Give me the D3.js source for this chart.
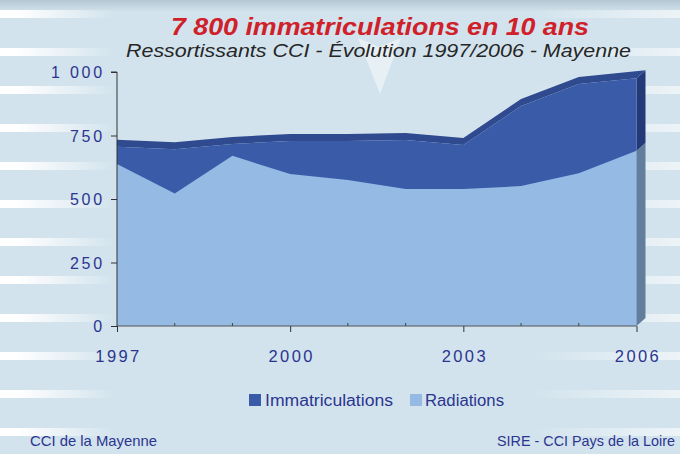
<!DOCTYPE html>
<html><head><meta charset="utf-8">
<script src="https://cdn.jsdelivr.net/npm/d3@7"></script>
<style>
html,body{margin:0;padding:0;background:#d2e3ed;}
svg{display:block;}
text{font-family:"Liberation Sans",Arial,sans-serif;}
</style></head>
<body>
<svg id="chart" width="680" height="454"></svg>
<script>
// ---- data ----
const years = [1997, 1998, 1999, 2000, 2001, 2002, 2003, 2004, 2005, 2006];
const immatriculations = [706, 696, 717, 728, 728, 732, 713, 866, 953, 975];
const radiations = [638, 522, 670, 598, 575, 539, 539, 551, 601, 690];
const yTickValues = [0, 250, 500, 750, 1000];
const xLabelYears = [1997, 2000, 2003, 2006];
const seriesNames = ["Immatriculations", "Radiations"];
const titleText = "7 800 immatriculations en 10 ans";
const subtitleText = "Ressortissants CCI - Évolution 1997/2006 - Mayenne";
const sourceLeft = "CCI de la Mayenne";
const sourceRight = "SIRE - CCI Pays de la Loire";

// ---- setup ----
const W = 680, H = 454;
const svg = d3.select("#chart");
const C = {
  bg: "#d2e3ed", darkFront: "#3a5ba8", darkTop: "#2f4a8e", darkSide: "#243a78",
  lightFront: "#95bbe4", lightSide: "#637e9c", label: "#2b3590", red: "#d0202a"
};
const DX = 9, DY = -8, BAND = -7;

const x = d3.scaleLinear().domain([1997, 2006]).range([117, 636.5]);
const y = d3.scaleLinear().domain([0, 1000]).range([326, 72]);

const defs = svg.append("defs");
const gl = defs.append("linearGradient").attr("id", "stripeL").attr("x1", 0).attr("x2", 1);
gl.append("stop").attr("offset", "0").attr("stop-color", "#fff").attr("stop-opacity", 1);
gl.append("stop").attr("offset", "0.15").attr("stop-color", "#fff").attr("stop-opacity", 1);
gl.append("stop").attr("offset", "1").attr("stop-color", "#fff").attr("stop-opacity", 0);
const gr = defs.append("linearGradient").attr("id", "stripeR").attr("x1", 0).attr("x2", 1);
gr.append("stop").attr("offset", "0").attr("stop-color", "#fff").attr("stop-opacity", 0);
gr.append("stop").attr("offset", "1").attr("stop-color", "#fff").attr("stop-opacity", 0.6);
const gt = defs.append("linearGradient").attr("id", "topG").attr("x1", 0).attr("x2", 0).attr("y1", 0).attr("y2", 1);
gt.append("stop").attr("offset", "0").attr("stop-color", "#b4c7d3");
gt.append("stop").attr("offset", "1").attr("stop-color", C.bg);

// background
svg.append("rect").attr("width", W).attr("height", H).attr("fill", C.bg);
svg.append("rect").attr("width", W).attr("height", 12).attr("fill", "url(#topG)");
const stripeY = d3.range(14, H, 38);
svg.append("g").selectAll("rect").data(stripeY).join("rect")
  .attr("x", 0).attr("y", d => d - 4).attr("width", 115).attr("height", 8).attr("fill", "url(#stripeL)");
svg.append("g").selectAll("rect").data(stripeY).join("rect")
  .attr("x", 530).attr("y", d => d - 4).attr("width", 150).attr("height", 8).attr("fill", "url(#stripeR)");
// faint chevron
svg.append("path").attr("d", "M358,38 L379,47 L401,38 L380,94 Z").attr("fill", "#fff").attr("opacity", 0.45);

// ---- 3D area chart ----
const n = years.length;
const front = years.map((yr, i) => [x(yr), y(immatriculations[i])]);
const back = front.map((p, i) => i === n - 1 ? [p[0] + DX, p[1] + DY] : [p[0], p[1] + BAND]);
const topPoly = front.concat(back.slice().reverse());
const plot = svg.append("g");

const lastX = x(years[n - 1]);
const yImmL = y(immatriculations[n - 1]), yRadL = y(radiations[n - 1]), y0 = y(0);
const poly = d3.line();
plot.append("path").attr("d", poly([[lastX, yRadL], [lastX + DX, yRadL + DY], [lastX + DX, y0 + DY], [lastX, y0]]) + "Z")
  .attr("fill", C.lightSide);
plot.append("path").attr("d", poly([[lastX, yImmL], [lastX + DX, yImmL + DY], [lastX + DX, yRadL + DY], [lastX, yRadL]]) + "Z")
  .attr("fill", C.darkSide);
plot.append("path").attr("d", poly(topPoly) + "Z").attr("fill", C.darkTop);

const areaImm = d3.area().x((d, i) => x(years[i])).y0(y(0)).y1(d => y(d));
plot.append("path").datum(immatriculations).attr("d", areaImm).attr("fill", C.darkFront);
plot.append("path").datum(radiations).attr("d", areaImm).attr("fill", C.lightFront);

// ---- axes ----
const fr = d3.formatLocale({decimal: ",", thousands: " ", grouping: [3], currency: ["", ""]});
const fmt = fr.format(",");
const yAxis = svg.append("g").attr("transform", `translate(${x(1997)},0)`)
  .call(d3.axisLeft(y).tickValues(yTickValues).tickSize(6).tickPadding(6).tickFormat(fmt));
yAxis.select(".domain").attr("d", `M-6,${y(1000)}H0V${y(0)}`).attr("stroke", "#333");
yAxis.selectAll(".tick line").attr("stroke", "#333");
yAxis.selectAll("text").attr("fill", C.label).attr("font-size", 16).attr("letter-spacing", "2.8px")
  .attr("dy", "0.36em").attr("font-family", "Liberation Sans, Arial, sans-serif");

const xAxis = svg.append("g").attr("transform", `translate(0,${y(0)})`)
  .call(d3.axisBottom(x).tickValues(xLabelYears).tickSize(6).tickPadding(18).tickFormat(d3.format("d")));
xAxis.select(".domain").attr("d", `M${x(1997)},0H${x(2006)}`).attr("stroke", "#555");
xAxis.selectAll(".tick line").attr("stroke", "#333");
xAxis.selectAll("text").attr("fill", C.label).attr("font-size", 16.5).attr("letter-spacing", "2.4px")
  .attr("font-family", "Liberation Sans, Arial, sans-serif").attr("dx", "1px");
svg.append("g").selectAll("line").data(years.filter(d => !xLabelYears.includes(d))).join("line")
  .attr("x1", d => x(d)).attr("x2", d => x(d)).attr("y1", y(0) - 3).attr("y2", y(0))
  .attr("stroke", "#444");

// ---- titles ----
svg.append("text").attr("x", 171).attr("y", 35).attr("font-size", 24.5).attr("font-weight", "bold")
  .attr("font-style", "italic").attr("fill", C.red).attr("textLength", 418).attr("lengthAdjust", "spacingAndGlyphs")
  .text(titleText);
svg.append("text").attr("x", 126).attr("y", 57).attr("font-size", 19)
  .attr("font-style", "italic").attr("fill", "#262626").attr("textLength", 505).attr("lengthAdjust", "spacingAndGlyphs")
  .text(subtitleText);

// ---- legend ----
const legend = svg.append("g");
const legendItems = [
  {name: seriesNames[0], color: C.darkFront, sx: 249, tx: 265, tw: 128},
  {name: seriesNames[1], color: C.lightFront, sx: 410, tx: 425, tw: 79}
];
legendItems.forEach(d => {
  legend.append("rect").attr("x", d.sx).attr("y", 394).attr("width", 12).attr("height", 12).attr("fill", d.color);
  legend.append("text").attr("x", d.tx).attr("y", 406).attr("font-size", 16).attr("fill", C.label)
    .attr("textLength", d.tw).attr("lengthAdjust", "spacingAndGlyphs").text(d.name);
});

// ---- sources ----
svg.append("text").attr("x", 30).attr("y", 446).attr("font-size", 14.5).attr("fill", C.label)
  .attr("textLength", 127).attr("lengthAdjust", "spacingAndGlyphs").text(sourceLeft);
svg.append("text").attr("x", 497).attr("y", 446).attr("font-size", 14.5).attr("fill", C.label)
  .attr("textLength", 178).attr("lengthAdjust", "spacingAndGlyphs").text(sourceRight);
</script>
</body></html>
